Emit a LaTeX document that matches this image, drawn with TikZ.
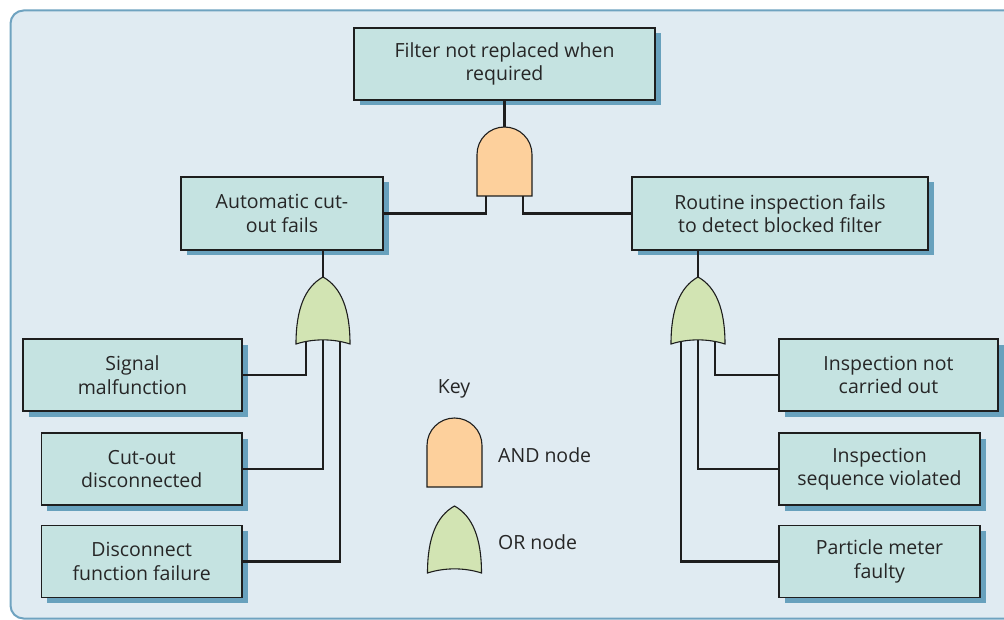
\documentclass[tikz,border=0pt]{standalone}
\usepackage{fontspec}
\setmainfont{Open Sans}
\usetikzlibrary{shadows}
\definecolor{bgc}{HTML}{E0EBF2}
\definecolor{framec}{HTML}{6FA3C0}
\definecolor{boxc}{HTML}{C5E3E1}
\definecolor{shadowc}{HTML}{68A1BD}
\definecolor{andc}{HTML}{FDD09C}
\definecolor{orc}{HTML}{D2E4B3}
\definecolor{txtc}{HTML}{262626}
\definecolor{linec}{HTML}{1E1E1E}
\begin{document}
\begin{tikzpicture}[x=1pt,y=-1pt,
 box/.style={draw=linec, line width=1.1pt, fill=boxc, text=txtc, align=center, inner sep=0pt,
   minimum height=72pt, font=\fontsize{19.5}{23.5}\selectfont,
   drop shadow={shadow xshift=5.5pt, shadow yshift=-5.5pt, fill=shadowc, opacity=1}},
 conn/.style={draw=linec, line width=2.8pt},
 gate/.style={draw=linec, line width=1.1pt},
 lbl/.style={text=txtc, font=\fontsize{19.5}{23.5}\selectfont, inner sep=0pt},
 andgate/.pic={\path[gate, fill=andc] (-27.5,69) -- (-27.5,27.5) .. controls (-27.5,12.3) and (-15.2,0) .. (0,0) .. controls (15.2,0) and (27.5,12.3) .. (27.5,27.5) -- (27.5,69) -- cycle;},
 orgate/.pic={\path[gate, fill=orc] (0,0) .. controls (-18,10) and (-27,32) .. (-27,67) .. controls (-10,61.5) and (10,61.5) .. (27,67) .. controls (27,32) and (18,10) .. (0,0) -- cycle;}
]
\useasboundingbox (0,0) rectangle (1004,620);
\clip (0,0) rectangle (1004,620);
\path[fill=bgc, draw=framec, line width=2pt, rounded corners=13pt] (10.5,10.5) rectangle (1030,618.5);

% boxes
\node[box, minimum width=301pt] (top) at (504.5,64) {Filter not replaced when\\required};
\node[box, minimum width=202pt, minimum height=73pt] (auto) at (282,213.5) {Automatic cut-\\out fails};
\node[box, minimum width=296pt, minimum height=73pt] (rout) at (780,213.5) {Routine inspection fails\\to detect blocked filter};
\node[box, minimum width=219pt] (sig) at (132.5,375) {Signal\\malfunction};
\node[box, minimum width=200.5pt] (cut) at (141.75,469) {Cut-out\\disconnected};
\node[box, minimum width=200.5pt] (disc) at (141.75,561.5) {Disconnect\\function failure};
\node[box, minimum width=219pt] (insp1) at (888.5,375) {Inspection not\\carried out};
\node[box, minimum width=201pt] (insp2) at (879.5,469) {Inspection\\sequence violated};
\node[box, minimum width=201pt] (part) at (879.5,561.5) {Particle meter\\faulty};

% gate anchor coordinates
\coordinate (andT) at (504.5,127);
\coordinate (andL) at (486,190);
\coordinate (andR) at (523,190);
\coordinate (orLT) at (323,277);
\coordinate (orLa) at (306,335);
\coordinate (orLb) at (323,335);
\coordinate (orLc) at (340,335);
\coordinate (orRT) at (698,277);
\coordinate (orRa) at (715,335);
\coordinate (orRb) at (698,335);
\coordinate (orRc) at (681,335);

% connectors
\draw[conn] (top.south) -- (andT);
\draw[conn] (andL) |- (auto.east);
\draw[conn] (andR) |- (rout.west);
\draw[conn] (auto.south -| orLT) -- (orLT);
\draw[conn] (rout.south -| orRT) -- (orRT);
\draw[conn] (orLa) |- (sig.east);
\draw[conn] (orLb) |- (cut.east);
\draw[conn] (orLc) |- (disc.east);
\draw[conn] (orRa) |- (insp1.west);
\draw[conn] (orRb) |- (insp2.west);
\draw[conn] (orRc) |- (part.west);

% gates
\pic at (andT) {andgate};
\pic at (orLT) {orgate};
\pic at (orRT) {orgate};

% key
\node[lbl] (key) at (454,389) {Key};
\pic at (454.5,418) {andgate};
\node[lbl, anchor=west] (andlbl) at (498,455) {AND node};
\pic at (454.5,506) {orgate};
\node[lbl, anchor=west] (orlbl) at (498,542) {OR node};
\end{tikzpicture}
\end{document}
